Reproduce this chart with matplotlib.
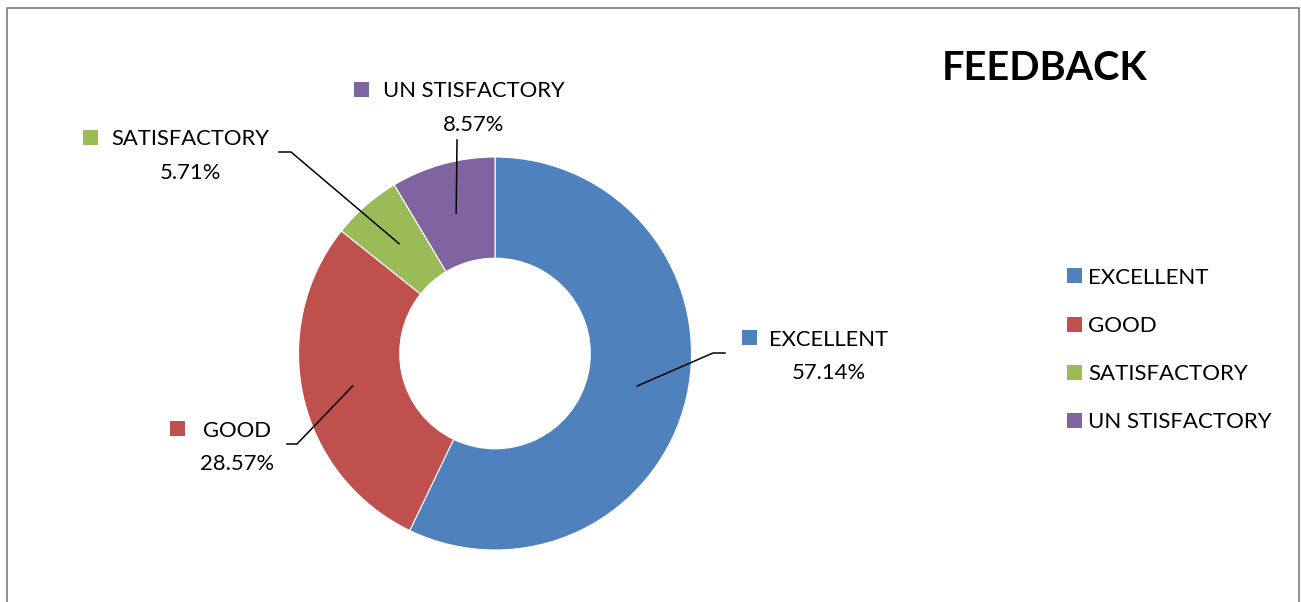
import numpy as np
import matplotlib
matplotlib.use("Agg")
import matplotlib.pyplot as plt
from matplotlib.patches import Rectangle
from matplotlib.lines import Line2D

# ---- data ----
categories = ["EXCELLENT", "GOOD", "SATISFACTORY", "UN STISFACTORY"]
values = [57.14, 28.57, 5.71, 8.57]
pct_labels = ["57.14%", "28.57%", "5.71%", "8.57%"]
colors = ["#4F81BD", "#C0504D", "#9BBB59", "#8064A2"]
title = "FEEDBACK"

plt.rcParams['font.family'] = ['Lato', 'DejaVu Sans']

W, H = 1301, 602
DPI = 100
fig = plt.figure(figsize=(W / DPI, H / DPI), dpi=DPI)
fig.patch.set_facecolor("white")

def fx(x):
    return x / W

def fy(y):
    return 1 - y / H

# ---- donut ----
cx, cy, R = 495.0, 353.5, 196.5
ring = 0.515
ax = fig.add_axes([fx(cx - R), fy(cy + R), 2 * R / W, 2 * R / H])
wedges, _ = ax.pie(values, colors=colors, startangle=90, counterclock=False,
                   radius=1.0,
                   wedgeprops=dict(width=ring, edgecolor="white", linewidth=0.8))
ax.set_xlim(-1, 1)
ax.set_ylim(-1, 1)
ax.axis("off")

# ---- data labels with leader lines ----
fs_label = 15.8
layout = {
    "EXCELLENT": dict(tx=829, base=345.5, sq=742, path=[(713, 353), (725, 353)]),
    "GOOD": dict(tx=237, base=436.7, sq=170, path=[(297, 444), (287, 444)]),
    "SATISFACTORY": dict(tx=190, base=145.0, sq=83, path=[(291, 152), (279, 152)]),
    "UN STISFACTORY": dict(tx=473.5, base=97.3, sq=354, path=[(457, 140)]),
}
cap = 15.5
sq = 15
line_gap = 33.5

for w, cat, pl, col in zip(wedges, categories, pct_labels, colors):
    L = layout[cat]
    mid = np.deg2rad((w.theta1 + w.theta2) / 2.0)
    rmid = 1 - ring / 2.0
    sx = cx + R * rmid * np.cos(mid)
    sy = cy - R * rmid * np.sin(mid)
    xs = [sx] + [p[0] for p in L["path"]]
    ys = [sy] + [p[1] for p in L["path"]]
    fig.add_artist(Line2D([fx(x) for x in xs], [fy(y) for y in ys],
                          color="black", lw=1.1, transform=fig.transFigure))
    fig.text(fx(L["tx"]), fy(L["base"]), cat, ha="center", va="baseline",
             fontsize=fs_label, color="black")
    fig.text(fx(L["tx"]), fy(L["base"] + line_gap), pl, ha="center", va="baseline",
             fontsize=fs_label, color="black")
    yc = L["base"] - cap / 2.0
    fig.add_artist(Rectangle((fx(L["sq"]), fy(yc + sq / 2.0)), sq / W, sq / H,
                             facecolor=col, edgecolor="none",
                             transform=fig.transFigure))

# ---- legend ----
leg_sq_x = 1067
leg_text_x = 1088
leg_y0 = 276
leg_step = 48
for i, (cat, col) in enumerate(zip(categories, colors)):
    yc = leg_y0 + i * leg_step
    fig.add_artist(Rectangle((fx(leg_sq_x), fy(yc + sq / 2.0)), sq / W, sq / H,
                             facecolor=col, edgecolor="none",
                             transform=fig.transFigure))
    fig.text(fx(leg_text_x), fy(yc + cap / 2.0), cat, ha="left", va="baseline",
             fontsize=16.0, color="black")

# ---- title ----
fig.text(fx(942), fy(80), title, ha="left", va="baseline", fontsize=28.5,
         fontweight="bold", color="black")

# ---- chart border ----
bc = "#868686"
fig.add_artist(Line2D([fx(7), fx(7), fx(1299), fx(1299)],
                      [fy(620), fy(8), fy(8), fy(620)],
                      color=bc, lw=1.3, transform=fig.transFigure))

fig.savefig("out.png", dpi=DPI, facecolor="white")
